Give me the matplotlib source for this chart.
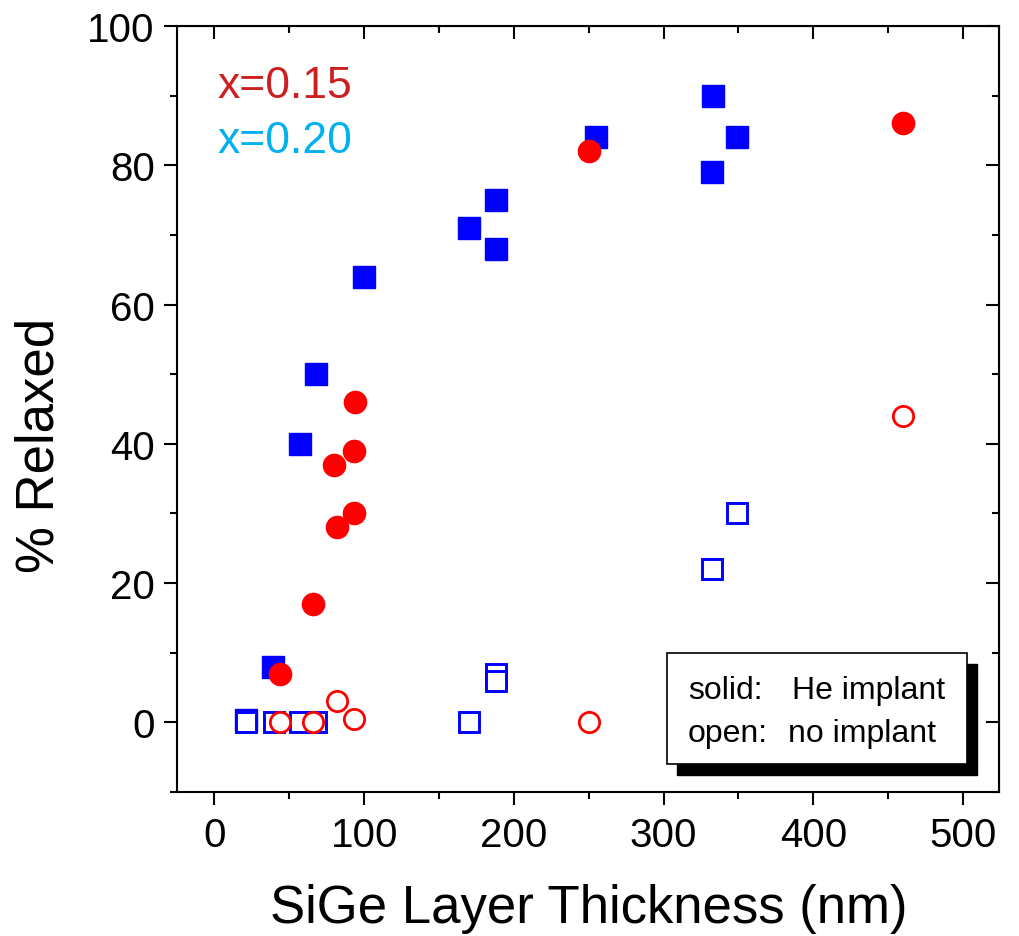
import matplotlib
matplotlib.use("Agg")
import matplotlib.pyplot as plt
from matplotlib.patches import Rectangle
from matplotlib.ticker import MultipleLocator

plt.rcParams['font.family'] = ['Liberation Sans', 'DejaVu Sans']

# x = 0.20, He implanted (solid squares)
sq_he_x = [21, 39, 57, 68, 100, 170, 188, 188, 255, 333, 332, 349]
sq_he_y = [0.4, 8, 40, 50, 64, 71, 75, 68, 84, 90, 79, 84]
# x = 0.20, no implant (open squares)
sq_no_x = [21, 40, 57, 68, 170, 188, 188, 332, 349]
sq_no_y = [0, 0, 0, 0, 0, 7, 6, 22, 30]
# x = 0.15, He implanted (solid circles)
ci_he_x = [44, 66, 82, 80, 93, 93, 94, 250, 460]
ci_he_y = [7, 17, 28, 37, 30, 39, 46, 82, 86]
# x = 0.15, no implant (open circles)
ci_no_x = [44, 66, 82, 93, 250, 460]
ci_no_y = [0, 0, 3, 0.5, 0, 44]

BLUE = '#0000FF'
RED = '#FF0000'

fig = plt.figure(figsize=(10.19, 9.37), dpi=100)
ax = fig.add_axes([177/1019, 1-793/937, (999-177)/1019, (793-27)/937])

ax.plot(sq_he_x, sq_he_y, 's', ms=15.3, mfc=BLUE, mec=BLUE, mew=1, zorder=3)
ax.plot(sq_no_x, sq_no_y, 's', ms=13.8, mfc='white', mec=BLUE, mew=2.1, zorder=4)
ax.plot(ci_he_x, ci_he_y, 'o', ms=16, mfc=RED, mec=RED, mew=1, zorder=5)
ax.plot(ci_no_x, ci_no_y, 'o', ms=14.6, mfc='white', mec=RED, mew=2.0, zorder=6)

ax.set_xlim(-25, 524)
ax.set_ylim(-10, 100)
ax.xaxis.set_major_locator(MultipleLocator(100))
ax.xaxis.set_minor_locator(MultipleLocator(50))
ax.yaxis.set_major_locator(MultipleLocator(20))
ax.yaxis.set_minor_locator(MultipleLocator(10))

for s in ax.spines.values():
    s.set_linewidth(1.5)

ax.tick_params(which='both', bottom=True, left=True, top=False, right=False,
               direction='out', width=1.5, labelsize=29, color='black')
ax.tick_params(which='major', length=9.5, pad=6.5)
ax.tick_params(which='minor', length=5)
ax.tick_params(axis='x', which='major', pad=8)

# inward ticks on the top and right edges
top = ax.secondary_xaxis('top')
top.xaxis.set_major_locator(MultipleLocator(100))
top.xaxis.set_minor_locator(MultipleLocator(50))
top.tick_params(which='both', direction='in', width=1.5, labeltop=False)
top.tick_params(which='major', length=9.5)
top.tick_params(which='minor', length=5)
right = ax.secondary_yaxis('right')
right.yaxis.set_major_locator(MultipleLocator(20))
right.yaxis.set_minor_locator(MultipleLocator(10))
right.tick_params(which='both', direction='in', width=1.5, labelright=False)
right.tick_params(which='major', length=9.5)
right.tick_params(which='minor', length=5)

fig.text(589/1019, 1-923/937, 'SiGe Layer Thickness (nm)', fontsize=38,
         ha='center', va='baseline')
fig.text(40/1019, 1-445/937, '% Relaxed', fontsize=38, rotation=90,
         ha='center', va='center')

fig.text(217/1019, 1-98/937, 'x=0.15', fontsize=32, color='#CC2020',
         ha='left', va='baseline')
fig.text(217/1019, 1-153/937, 'x=0.20', fontsize=32, color='#00B0F0',
         ha='left', va='baseline')

# annotation box with drop shadow
bx0, bx1, by0, by1 = 667, 967, 654, 765
fig.patches.append(Rectangle(((bx0+10)/1019, 1-(by1+11)/937), (bx1-bx0)/1019,
                             (by1-by0)/937, transform=fig.transFigure,
                             facecolor='black', edgecolor='black', zorder=8))
fig.patches.append(Rectangle((bx0/1019, 1-by1/937), (bx1-bx0)/1019,
                             (by1-by0)/937, transform=fig.transFigure,
                             facecolor='white', edgecolor='black', lw=1.2, zorder=9))
fig.text(688/1019, 1-699/937, 'solid:', fontsize=23, va='baseline', zorder=10)
fig.text(792/1019, 1-699/937, 'He implant', fontsize=23, va='baseline', zorder=10)
fig.text(688/1019, 1-742/937, 'open:', fontsize=23, va='baseline', zorder=10)
fig.text(788/1019, 1-742/937, 'no implant', fontsize=23, va='baseline', zorder=10)

fig.savefig('out.png', dpi=100)
